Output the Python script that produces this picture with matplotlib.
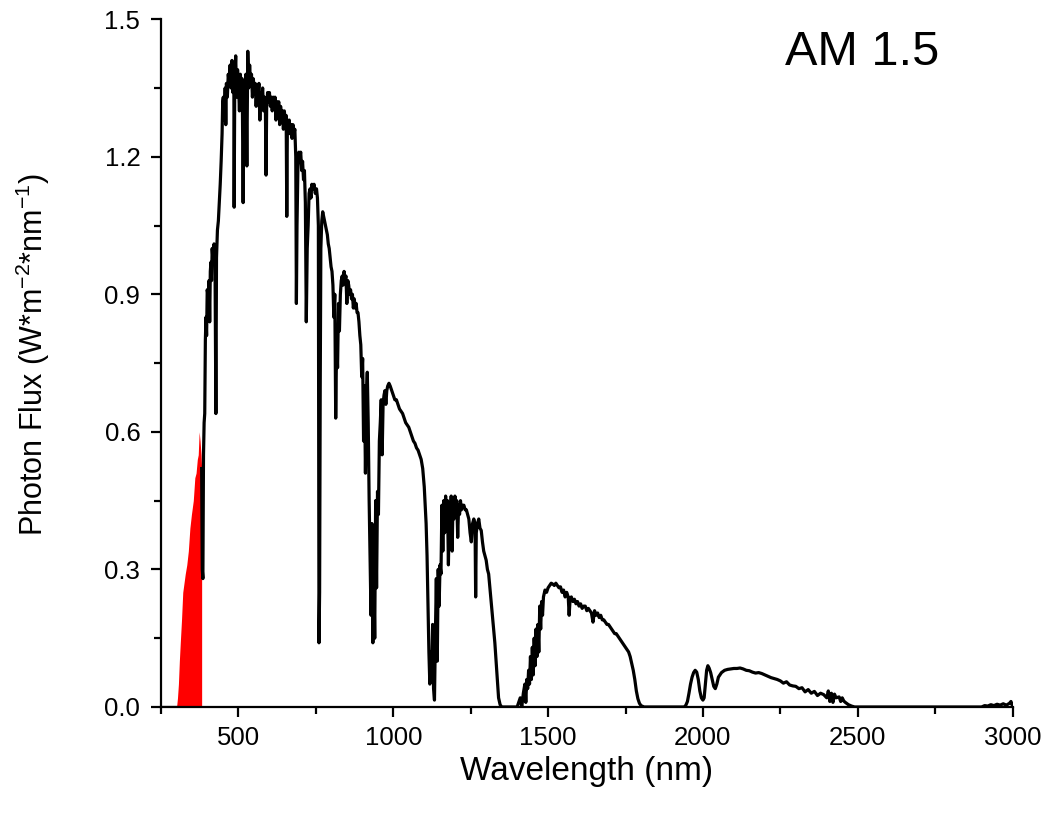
import numpy as np
import matplotlib
matplotlib.use('Agg')
import matplotlib.pyplot as plt
from matplotlib.ticker import MultipleLocator

plt.rcParams['font.family'] = ['Liberation Sans', 'DejaVu Sans']
plt.rcParams['mathtext.fontset'] = 'custom'
plt.rcParams['mathtext.rm'] = 'Liberation Sans'
plt.rcParams['mathtext.it'] = 'Liberation Sans:italic'

# UV part of the spectrum (shaded red)
uv_wl = [300, 303, 306, 309, 312, 316, 320, 324, 328, 333, 338, 343, 348, 354,
         359, 363, 367, 370, 373, 376, 379, 381]
uv_flux = [0.0, 0.02, 0.05, 0.10, 0.14, 0.19, 0.25, 0.27, 0.29, 0.31, 0.34, 0.39,
           0.42, 0.45, 0.50, 0.51, 0.54, 0.55, 0.60, 0.58, 0.55, 0.52]

# AM 1.5 spectrum
wavelength = [
    381, 383, 385, 387, 389, 391, 393, 395, 397, 399, 401, 403, 405, 407, 409, 411, 413, 415,
    418, 421, 424, 427, 429, 432, 435, 438, 441, 444, 447, 449, 451, 453, 455, 457, 459, 461,
    464, 467, 470, 473, 476, 479, 482, 485, 486, 488, 491, 494, 497, 500, 503, 506, 509, 512,
    515, 518, 521, 524, 527, 530, 533, 536, 539, 542, 545, 548, 551, 554, 557, 560, 563, 566,
    569, 572, 575, 578, 581, 584, 587, 589, 591, 594, 597, 600, 603, 606, 609, 612, 615, 618,
    621, 624, 627, 630, 633, 636, 639, 642, 645, 648, 651, 654, 656, 658, 661, 664, 667, 670,
    673, 676, 679, 682, 685, 687, 689, 692, 695, 698, 701, 704, 707, 710, 713, 716, 719, 722,
    725, 728, 731, 734, 737, 740, 744, 748, 752, 755, 758, 760, 762, 764, 766, 769, 772, 775,
    778, 781, 784, 787, 790, 793, 796, 799, 802, 805, 808, 811, 814, 817, 820, 823, 826, 829,
    832, 835, 838, 841, 844, 847, 850, 853, 856, 859, 862, 865, 868, 871, 874, 877, 880, 883,
    886, 889, 892, 895, 898, 901, 904, 907, 910, 913, 916, 919, 922, 925, 928, 931, 934, 937,
    940, 943, 946, 949, 952, 955, 958, 961, 964, 967, 970, 973, 976, 979, 982, 986, 990, 995,
    1000, 1005, 1010, 1015, 1020, 1025, 1030, 1035, 1040, 1045, 1050, 1055, 1060, 1065, 1070,
    1075, 1080, 1085, 1090, 1095, 1100, 1103, 1106, 1109, 1112, 1115, 1118, 1121, 1124, 1127,
    1130, 1133, 1136, 1139, 1142, 1145, 1148, 1151, 1154, 1157, 1160, 1163, 1166, 1169, 1172,
    1175, 1178, 1181, 1184, 1187, 1190, 1193, 1196, 1199, 1202, 1205, 1208, 1211, 1214, 1217,
    1220, 1224, 1228, 1232, 1236, 1240, 1244, 1248, 1252, 1256, 1260, 1264, 1266, 1268, 1272,
    1276, 1280, 1284, 1288, 1292, 1296, 1300, 1304, 1308, 1312, 1316, 1320, 1324, 1328, 1332,
    1336, 1340, 1345, 1350, 1400, 1405, 1410, 1415, 1420, 1425, 1428, 1431, 1434, 1437, 1440,
    1443, 1446, 1449, 1452, 1455, 1458, 1461, 1464, 1467, 1470, 1473, 1476, 1479, 1482, 1485,
    1490, 1495, 1500, 1505, 1510, 1515, 1520, 1525, 1530, 1535, 1540, 1545, 1550, 1555, 1560,
    1565, 1568, 1571, 1575, 1580, 1585, 1590, 1595, 1600, 1605, 1610, 1615, 1620, 1625, 1630,
    1635, 1640, 1645, 1650, 1655, 1660, 1665, 1670, 1675, 1680, 1685, 1690, 1695, 1700, 1705,
    1710, 1715, 1720, 1725, 1730, 1735, 1740, 1745, 1750, 1755, 1760, 1765, 1770, 1775, 1780,
    1785, 1790, 1795, 1800, 1810, 1940, 1945, 1950, 1955, 1960, 1965, 1970, 1975, 1980, 1985,
    1990, 1995, 2000, 2004, 2008, 2012, 2016, 2020, 2025, 2030, 2035, 2040, 2045, 2050, 2055,
    2060, 2070, 2080, 2090, 2100, 2110, 2120, 2130, 2140, 2150, 2160, 2170, 2180, 2190, 2200,
    2210, 2220, 2230, 2240, 2250, 2260, 2270, 2280, 2290, 2300, 2310, 2320, 2330, 2340, 2350,
    2360, 2370, 2380, 2390, 2400, 2405, 2410, 2415, 2420, 2425, 2430, 2440, 2445, 2450, 2455,
    2460, 2470, 2480, 2490, 2900, 2910, 2920, 2930, 2940, 2950, 2960, 2970, 2980, 2990, 2995,
    3000]
flux = [
    0.52, 0.30, 0.28, 0.55, 0.62, 0.64, 0.80, 0.85, 0.81, 0.91, 0.90, 0.86, 0.93, 0.84, 0.95, 0.97, 0.93, 1.00,
    0.97, 1.01, 0.99, 0.64, 0.98, 1.04, 1.06, 1.10, 1.14, 1.19, 1.25, 1.32, 1.33, 1.28, 1.30, 1.35, 1.27, 1.36,
    1.33, 1.38, 1.36, 1.40, 1.35, 1.41, 1.34, 1.38, 1.09, 1.37, 1.42, 1.33, 1.39, 1.36, 1.30, 1.38, 1.35, 1.37,
    1.10, 1.36, 1.33, 1.38, 1.18, 1.43, 1.35, 1.40, 1.36, 1.38, 1.33, 1.37, 1.34, 1.36, 1.31, 1.35, 1.33, 1.36,
    1.28, 1.34, 1.32, 1.35, 1.30, 1.33, 1.30, 1.16, 1.31, 1.34, 1.32, 1.34, 1.31, 1.33, 1.30, 1.33, 1.31, 1.33,
    1.28, 1.32, 1.30, 1.32, 1.27, 1.31, 1.29, 1.30, 1.26, 1.30, 1.28, 1.29, 1.07, 1.28, 1.26, 1.28, 1.25, 1.27,
    1.24, 1.27, 1.25, 1.26, 1.20, 0.88, 1.05, 1.18, 1.21, 1.20, 1.21, 1.17, 1.19, 1.15, 1.17, 1.10, 0.84, 1.00,
    1.05, 1.12, 1.13, 1.11, 1.14, 1.13, 1.14, 1.12, 1.13, 1.11, 1.05, 0.14, 0.25, 0.70, 1.00, 1.06, 1.08, 1.07,
    1.06, 1.05, 1.04, 1.03, 1.01, 1.00, 0.98, 0.96, 0.95, 0.92, 0.85, 0.90, 0.63, 0.80, 0.74, 0.88, 0.82, 0.90,
    0.93, 0.94, 0.92, 0.95, 0.93, 0.94, 0.88, 0.93, 0.92, 0.90, 0.91, 0.89, 0.90, 0.87, 0.89, 0.87, 0.88, 0.86,
    0.86, 0.84, 0.81, 0.79, 0.72, 0.76, 0.58, 0.70, 0.51, 0.68, 0.73, 0.62, 0.45, 0.33, 0.20, 0.40, 0.14, 0.30,
    0.15, 0.45, 0.26, 0.47, 0.42, 0.58, 0.62, 0.67, 0.55, 0.66, 0.68, 0.69, 0.66, 0.69, 0.70, 0.706, 0.70, 0.69,
    0.68, 0.67, 0.67, 0.66, 0.65, 0.645, 0.64, 0.63, 0.62, 0.615, 0.61, 0.60, 0.59, 0.58, 0.575,
    0.565, 0.56, 0.55, 0.54, 0.52, 0.48, 0.44, 0.40, 0.33, 0.22, 0.12, 0.05, 0.12, 0.06, 0.18,
    0.04, 0.015, 0.16, 0.28, 0.10, 0.30, 0.22, 0.31, 0.29, 0.44, 0.34, 0.45, 0.38, 0.46, 0.40,
    0.45, 0.31, 0.44, 0.40, 0.46, 0.34, 0.45, 0.41, 0.46, 0.43, 0.45, 0.37, 0.44, 0.42, 0.45,
    0.43, 0.44, 0.44, 0.43, 0.43, 0.42, 0.41, 0.38, 0.36, 0.40, 0.41, 0.40, 0.24, 0.38, 0.40,
    0.41, 0.39, 0.385, 0.36, 0.34, 0.33, 0.32, 0.30, 0.29, 0.26, 0.23, 0.20, 0.17, 0.14, 0.10,
    0.06, 0.02, 0.005, 0.0, 0.0, 0.01, 0.02, 0.0, 0.03, 0.05, 0.01, 0.06, 0.04, 0.08, 0.05,
    0.11, 0.06, 0.13, 0.07, 0.15, 0.09, 0.17, 0.11, 0.18, 0.12, 0.22, 0.17, 0.23, 0.20, 0.24,
    0.255, 0.25, 0.26, 0.265, 0.27, 0.268, 0.265, 0.27, 0.265, 0.26, 0.262, 0.25, 0.255, 0.24, 0.25,
    0.24, 0.20, 0.235, 0.24, 0.23, 0.235, 0.225, 0.23, 0.22, 0.225, 0.215, 0.22, 0.22, 0.21, 0.215,
    0.21, 0.205, 0.185, 0.21, 0.20, 0.205, 0.195, 0.20, 0.19, 0.19, 0.185, 0.18, 0.18, 0.175, 0.17,
    0.165, 0.16, 0.16, 0.155, 0.15, 0.145, 0.14, 0.135, 0.13, 0.125, 0.12, 0.11, 0.095, 0.08, 0.06,
    0.035, 0.018, 0.008, 0.003, 0.0, 0.0, 0.004, 0.012, 0.03, 0.05, 0.065, 0.075, 0.08, 0.076, 0.06,
    0.035, 0.02, 0.015, 0.02, 0.05, 0.08, 0.09, 0.085, 0.075, 0.06, 0.045, 0.04, 0.05, 0.065, 0.07,
    0.075, 0.08, 0.082, 0.083, 0.084, 0.084, 0.085, 0.083, 0.08, 0.079, 0.076, 0.074, 0.075, 0.073, 0.07,
    0.067, 0.064, 0.062, 0.06, 0.057, 0.052, 0.055, 0.048, 0.046, 0.045, 0.04, 0.042, 0.033, 0.038, 0.03,
    0.034, 0.025, 0.03, 0.027, 0.02, 0.035, 0.012, 0.03, 0.01, 0.028, 0.02, 0.022, 0.012, 0.02, 0.013,
    0.01, 0.005, 0.002, 0.0, 0.0, 0.003, 0.002, 0.005, 0.003, 0.006, 0.004, 0.007, 0.004, 0.008, 0.012,
    0.002]

fig = plt.figure(figsize=(10.46, 8.13), dpi=100)
ax = fig.add_axes([0.154, 0.1304, 0.814, 0.846])

ax.fill_between(uv_wl, uv_flux, color='#ff0000', linewidth=0)
ax.plot([250, 300], [0, 0], color='black', lw=2.3)
ax.plot(wavelength, flux, color='black', lw=2.3)

ax.set_xlim(250, 3000)
ax.set_ylim(0, 1.5)
ax.xaxis.set_major_locator(MultipleLocator(500))
ax.xaxis.set_minor_locator(MultipleLocator(250))
ax.yaxis.set_major_locator(MultipleLocator(0.3))
ax.yaxis.set_minor_locator(MultipleLocator(0.15))
ax.set_xticks([500, 1000, 1500, 2000, 2500, 3000])
ax.yaxis.set_major_formatter(matplotlib.ticker.FormatStrFormatter('%.1f'))

for s in ['top', 'right']:
    ax.spines[s].set_visible(False)
for s in ['left', 'bottom']:
    ax.spines[s].set_linewidth(1.6)
ax.tick_params(which='major', direction='out', length=7, width=1.6, labelsize=18.5)
ax.tick_params(axis='x', which='major', pad=7)
ax.tick_params(axis='y', which='major', pad=8)
ax.tick_params(which='minor', direction='out', length=5, width=1.6)

ax.set_xlabel('Wavelength (nm)', fontsize=24, labelpad=4)
ax.set_ylabel(r'Photon Flux (W*m$^{\mathregular{-2}}$*nm$^{\mathregular{-1}}$)', fontsize=22)
ax.yaxis.set_label_coords(-0.128, 0.512)
ax.text(0.823, 0.952, 'AM 1.5', transform=ax.transAxes, fontsize=35, ha='center', va='center')

fig.savefig('out.png', dpi=100)
